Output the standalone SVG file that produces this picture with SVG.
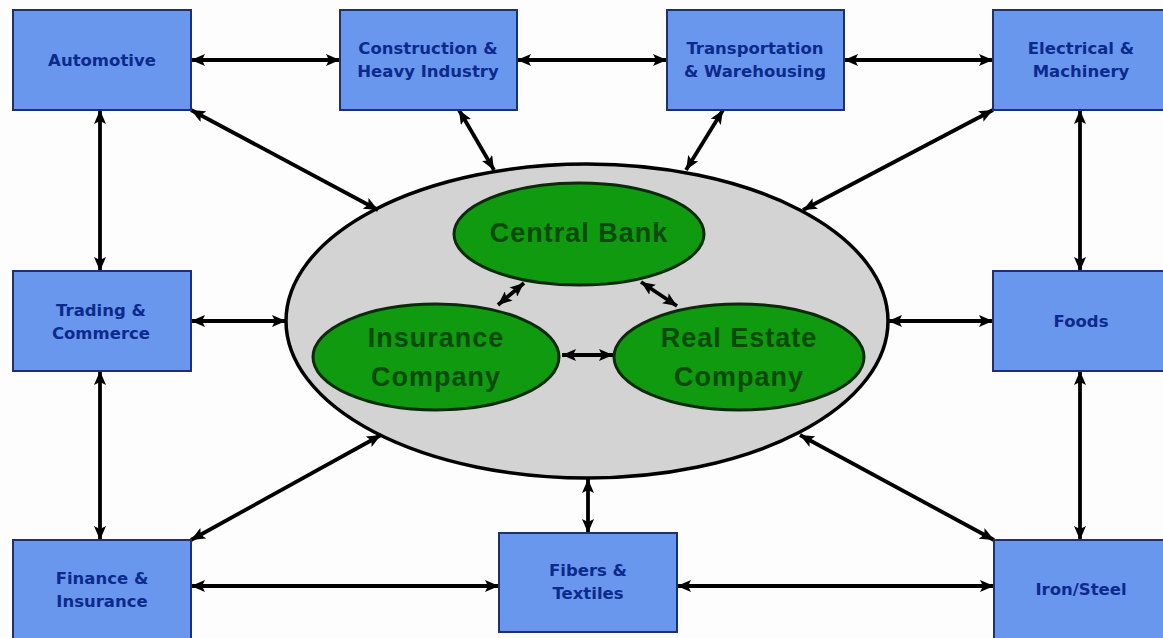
<svg xmlns="http://www.w3.org/2000/svg" width="1163" height="638" viewBox="0 0 1163 638">
<style>
.box{fill:#6a97ee;stroke:#1d3170;stroke-width:2}
.bt{font-family:"DejaVu Sans",Verdana,sans-serif;font-weight:bold;font-size:16.5px;fill:#0c2a8c;text-anchor:middle}
.ge{fill:#0f9a0f;stroke:#0a2a0a;stroke-width:3}
.gt{font-family:"Liberation Sans",Arial,sans-serif;font-weight:bold;font-size:27px;letter-spacing:1px;fill:#0b4a0b;text-anchor:middle}
.c line{stroke:#000;stroke-width:3.8;marker-start:url(#ah);marker-end:url(#ah)}
</style>
<defs>
<marker id="ah" viewBox="0 0 14 12" refX="14" refY="6" markerWidth="14" markerHeight="12" markerUnits="userSpaceOnUse" orient="auto-start-reverse">
<path d="M0,0 L14,6 L0,12 L3,6 z" fill="#000"/>
</marker>
</defs>
<rect width="1163" height="638" fill="#fdfdfd"/>
<g id="hub">
<ellipse cx="587" cy="321" rx="301" ry="157" fill="#d3d3d3" stroke="#000" stroke-width="3.5"/>
</g>
<g class="c" id="connectors">
<line x1="191" y1="60" x2="340" y2="60"/>
<line x1="517" y1="60" x2="667" y2="60"/>
<line x1="844" y1="60" x2="993" y2="60"/>
<line x1="100" y1="110" x2="100" y2="271"/>
<line x1="1080" y1="110" x2="1080" y2="271"/>
<line x1="100" y1="371" x2="100" y2="540"/>
<line x1="1080" y1="371" x2="1080" y2="540"/>
<line x1="191" y1="321" x2="286" y2="321"/>
<line x1="888" y1="321" x2="993" y2="321"/>
<line x1="191" y1="586" x2="499" y2="586"/>
<line x1="677" y1="586" x2="994" y2="586"/>
<line x1="588" y1="479" x2="588" y2="533"/>
<line x1="191" y1="110" x2="378" y2="210"/>
<line x1="459" y1="110" x2="494" y2="170"/>
<line x1="723" y1="110" x2="686" y2="170"/>
<line x1="993" y1="110" x2="803" y2="210"/>
<line x1="191" y1="540" x2="381" y2="435"/>
<line x1="994" y1="540" x2="800" y2="435"/>
<line x1="498" y1="305" x2="524" y2="283"/>
<line x1="641" y1="282" x2="677" y2="306"/>
<line x1="562" y1="355" x2="613" y2="355"/>
</g>
<g id="central-bank"><ellipse class="ge" cx="579" cy="234" rx="125" ry="51"/><text class="gt" x="579" y="242">Central Bank</text></g>
<g id="insurance-company"><ellipse class="ge" cx="436" cy="357" rx="123" ry="53"/><text class="gt" x="436" y="347">Insurance</text><text class="gt" x="436" y="386">Company</text></g>
<g id="real-estate-company"><ellipse class="ge" cx="739" cy="357" rx="125" ry="53"/><text class="gt" x="739" y="347">Real Estate</text><text class="gt" x="739" y="386">Company</text></g>
<g id="automotive"><rect class="box" x="13" y="10" width="178" height="100"/><text class="bt" x="102" y="66">Automotive</text></g>
<g id="construction"><rect class="box" x="340" y="10" width="177" height="100"/><text class="bt" x="428" y="54">Construction &amp;</text><text class="bt" x="428" y="77">Heavy Industry</text></g>
<g id="transportation"><rect class="box" x="667" y="10" width="177" height="100"/><text class="bt" x="755" y="54">Transportation</text><text class="bt" x="755" y="77">&amp; Warehousing</text></g>
<g id="electrical"><rect class="box" x="993" y="10" width="178" height="100"/><text class="bt" x="1081" y="54">Electrical &amp;</text><text class="bt" x="1081" y="77">Machinery</text></g>
<g id="trading"><rect class="box" x="13" y="271" width="178" height="100"/><text class="bt" x="101" y="316">Trading &amp;</text><text class="bt" x="101" y="339">Commerce</text></g>
<g id="foods"><rect class="box" x="993" y="271" width="178" height="100"/><text class="bt" x="1081" y="327">Foods</text></g>
<g id="finance"><rect class="box" x="13" y="540" width="178" height="100"/><text class="bt" x="102" y="584">Finance &amp;</text><text class="bt" x="102" y="607">Insurance</text></g>
<g id="fibers"><rect class="box" x="499" y="533" width="178" height="99"/><text class="bt" x="588" y="576">Fibers &amp;</text><text class="bt" x="588" y="599">Textiles</text></g>
<g id="iron-steel"><rect class="box" x="994" y="540" width="178" height="100"/><text class="bt" x="1081" y="595">Iron/Steel</text></g>
</svg>
